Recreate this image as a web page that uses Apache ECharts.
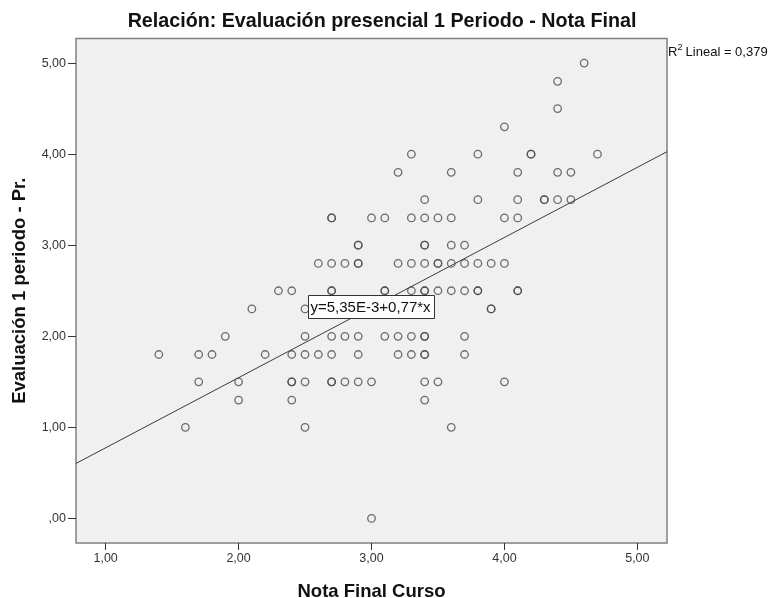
<!DOCTYPE html>
<html>
<head>
<meta charset="utf-8">
<script src="https://cdn.jsdelivr.net/npm/echarts@6/dist/echarts.min.js"></script>
<style>
  html, body { margin: 0; padding: 0; background: #ffffff; }
  #chart { width: 773px; height: 598px; }
</style>
</head>
<body>
<div id="chart"></div>
<script>
// Nota Final Curso (x) for each student
const notaFinal = [
  1.4, 1.6, 1.7, 1.7, 1.8, 1.9, 2.0, 2.0, 2.1, 2.2,
  2.3, 2.4, 2.4, 2.4, 2.4, 2.4, 2.5, 2.5, 2.5, 2.5, 2.5,
  2.6, 2.6, 2.7, 2.7, 2.7, 2.7, 2.7, 2.7, 2.7, 2.7, 2.7,
  2.8, 2.8, 2.8, 2.9, 2.9, 2.9, 2.9, 2.9, 2.9, 2.9,
  3.0, 3.0, 3.0, 3.1, 3.1, 3.1, 3.1,
  3.2, 3.2, 3.2, 3.2, 3.3, 3.3, 3.3, 3.3, 3.3, 3.3,
  3.4, 3.4, 3.4, 3.4, 3.4, 3.4, 3.4, 3.4, 3.4, 3.4, 3.4, 3.4, 3.4,
  3.5, 3.5, 3.5, 3.5, 3.5, 3.6, 3.6, 3.6, 3.6, 3.6, 3.6,
  3.7, 3.7, 3.7, 3.7, 3.7, 3.8, 3.8, 3.8, 3.8, 3.8,
  3.9, 3.9, 3.9, 4.0, 4.0, 4.0, 4.0, 4.1, 4.1, 4.1, 4.1, 4.1,
  4.2, 4.2, 4.3, 4.3, 4.4, 4.4, 4.4, 4.4, 4.5, 4.5, 4.6, 4.7
];
// Evaluación 1 periodo - Pr. (y) for the same students
const evaluacion1 = [
  1.8, 1.0, 1.8, 1.5, 1.8, 2.0, 1.5, 1.3, 2.3, 1.8,
  2.5, 2.5, 1.8, 1.5, 1.5, 1.3, 2.3, 2.0, 1.8, 1.5, 1.0,
  2.8, 1.8, 3.3, 3.3, 2.8, 2.5, 2.5, 2.0, 1.5, 1.5, 1.8,
  2.8, 2.0, 1.5, 3.0, 3.0, 2.8, 2.8, 2.0, 1.5, 1.8,
  3.3, 1.5, 0.0, 3.3, 2.5, 2.5, 2.0,
  3.8, 2.8, 2.0, 1.8, 4.0, 3.3, 2.8, 2.5, 2.0, 1.8,
  3.5, 3.3, 3.0, 3.0, 2.5, 2.5, 2.0, 2.0, 1.8, 1.8, 1.5, 1.3, 2.8,
  3.3, 2.8, 2.8, 2.5, 1.5, 3.8, 3.3, 3.0, 2.8, 2.5, 1.0,
  3.0, 2.8, 2.5, 2.0, 1.8, 4.0, 3.5, 2.8, 2.5, 2.5,
  2.8, 2.3, 2.3, 4.3, 3.3, 2.8, 1.5, 3.8, 3.5, 3.3, 2.5, 2.5,
  4.0, 4.0, 3.5, 3.5, 4.8, 4.5, 3.8, 3.5, 3.8, 3.5, 5.0, 4.0
];

// Linear fit reported by the model: y = b0 + b1 * x
const intercept = 5.35e-3;
const slope = 0.77;
const equationText = 'y=5,35E-3+0,77*x';
const r2Text = ' Lineal = 0,379';

const xTicks = [1, 2, 3, 4, 5];
const yTicks = [0, 1, 2, 3, 4, 5];

const xMin = 0.777, xMax = 5.223;
const yMin = -0.27, yMax = 5.27;

// SPSS-style decimals: comma separator, no leading zero
function fmt(v) {
  const s = v.toFixed(2).replace('.', ',');
  return s.startsWith('0,') ? s.slice(1) : s;
}

const points = notaFinal.map((x, i) => [x, evaluacion1[i]]);
const fitLine = [xMin, xMax].map(x => [x, intercept + slope * x]);

const chart = echarts.init(document.getElementById('chart'));
const font = '"Liberation Sans", Arial, sans-serif';

chart.setOption({
  animation: false,
  backgroundColor: '#ffffff',
  grid: {
    left: 76, top: 38.5, right: 106, bottom: 55,
    containLabel: false, outerBoundsMode: 'none',
    show: true, backgroundColor: '#f0f0f0', borderColor: '#808080', borderWidth: 1.5
  },
  xAxis: {
    type: 'value', min: xMin, max: xMax,
    name: 'Nota Final Curso', nameLocation: 'middle', nameGap: 39,
    nameTextStyle: { fontFamily: font, fontSize: 18.5, fontWeight: 'bold', color: '#111' },
    axisLine: { show: false, onZero: false },
    splitLine: { show: false },
    axisTick: { show: true, length: 7, inside: false, customValues: xTicks, lineStyle: { color: '#333' } },
    axisLabel: { customValues: xTicks, formatter: fmt, margin: 9, fontFamily: font, fontSize: 12.5, color: '#333' }
  },
  yAxis: {
    type: 'value', min: yMin, max: yMax,
    name: 'Evaluación 1 periodo - Pr.', nameLocation: 'middle', nameGap: 47, nameRotate: 90,
    nameTextStyle: { fontFamily: font, fontSize: 18.5, fontWeight: 'bold', color: '#111' },
    axisLine: { show: false, onZero: false },
    splitLine: { show: false },
    axisTick: { show: true, length: 8, inside: false, customValues: yTicks, lineStyle: { color: '#333' } },
    axisLabel: { customValues: yTicks, formatter: fmt, margin: 10, fontFamily: font, fontSize: 12.5, color: '#333' }
  },
  series: [
    {
      type: 'line',
      data: fitLine,
      symbol: 'none',
      silent: true,
      lineStyle: { color: '#3a3a3a', width: 1 },
      z: 2
    },
    {
      type: 'scatter',
      data: points,
      symbol: 'circle',
      symbolSize: 7.5,
      itemStyle: { color: 'rgba(0,0,0,0)', borderColor: '#4a4a4a', borderWidth: 1.3 },
      z: 3
    }
  ],
  graphic: [
    {
      type: 'text', x: 382, y: 22, z: 10,
      style: {
        text: 'Relación: Evaluación presencial 1 Periodo - Nota Final',
        fontFamily: font, fontSize: 19.7, fontWeight: 'bold', fill: '#111',
        textAlign: 'center', textVerticalAlign: 'middle'
      }
    },
    {
      type: 'rect', z: 10,
      shape: { x: 308.5, y: 295.5, width: 126, height: 23 },
      style: { fill: '#ffffff', stroke: '#333', lineWidth: 1 }
    },
    {
      type: 'text', x: 310.5, y: 307.5, z: 11,
      style: {
        text: equationText, fontFamily: font, fontSize: 15, fill: '#111',
        textAlign: 'left', textVerticalAlign: 'middle'
      }
    },
    {
      type: 'text', x: 668, y: 52.5, z: 10,
      style: { text: 'R', fontFamily: font, fontSize: 13, fill: '#111', textVerticalAlign: 'middle' }
    },
    {
      type: 'text', x: 677.5, y: 47.5, z: 10,
      style: { text: '2', fontFamily: font, fontSize: 9, fill: '#111', textVerticalAlign: 'middle' }
    },
    {
      type: 'text', x: 682, y: 52.5, z: 10,
      style: { text: r2Text, fontFamily: font, fontSize: 13, fill: '#111', textVerticalAlign: 'middle' }
    }
  ]
});
</script>
</body>
</html>
